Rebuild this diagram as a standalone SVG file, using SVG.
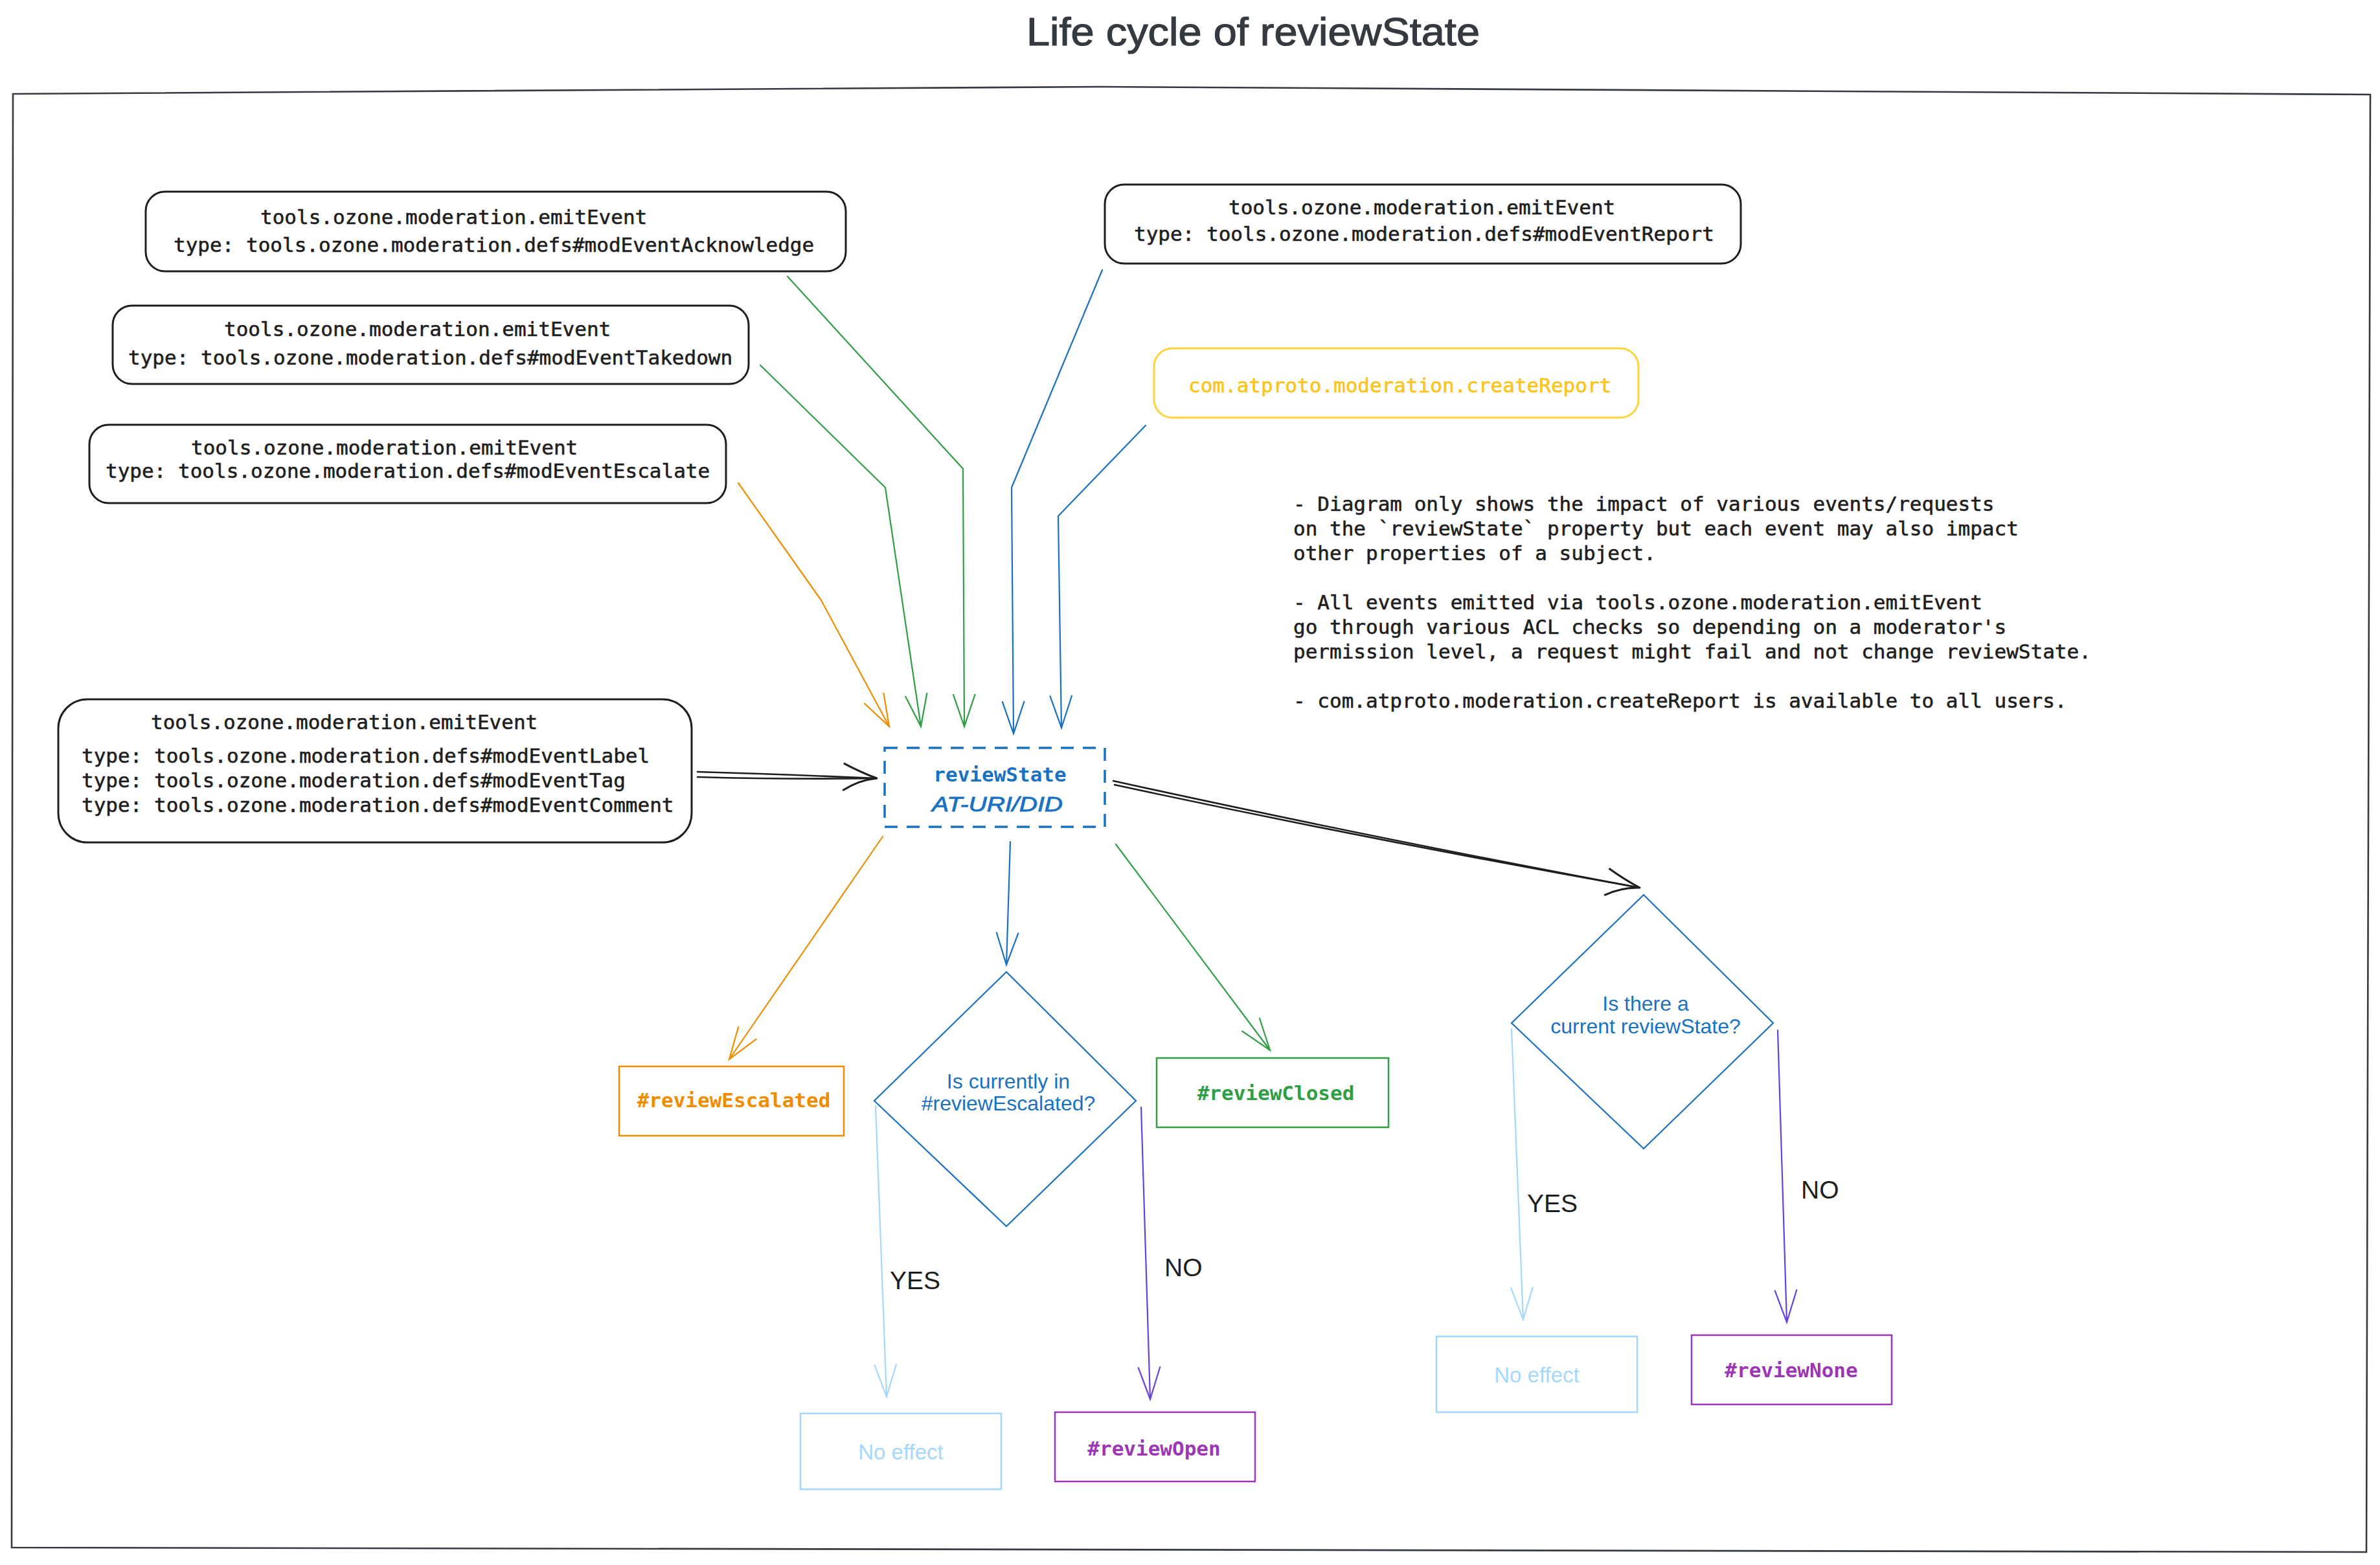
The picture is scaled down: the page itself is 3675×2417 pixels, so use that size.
<svg xmlns="http://www.w3.org/2000/svg" width="3675" height="2417" viewBox="0 0 3675 2417">
<style>
.mono{font-family:"DejaVu Sans Mono","Liberation Mono",monospace;font-size:31px;fill:#1e1e1e;stroke:#1e1e1e;stroke-width:0.6}
.bold{font-weight:bold;stroke:none}
.sans{font-family:"Liberation Sans",Arial,sans-serif}
.box{fill:#ffffff;stroke:#1e1e1e;stroke-width:3}
.c{fill:none;stroke-width:2.2;stroke-linecap:round;stroke-linejoin:round}
.k{fill:none;stroke:#1e1e1e;stroke-width:2.6;stroke-linecap:round}
</style>
<defs>
<marker id="aOr" viewBox="-60 -30 70 60" markerWidth="70" markerHeight="60" refX="0" refY="0" markerUnits="userSpaceOnUse" orient="auto"><path d="M-50,-17 L0,0 L-50,17" fill="none" stroke="#f08c00" stroke-width="2.2"/></marker>
<marker id="aGr" viewBox="-60 -30 70 60" markerWidth="70" markerHeight="60" refX="0" refY="0" markerUnits="userSpaceOnUse" orient="auto"><path d="M-50,-17 L0,0 L-50,17" fill="none" stroke="#2f9e44" stroke-width="2.2"/></marker>
<marker id="aBl" viewBox="-60 -30 70 60" markerWidth="70" markerHeight="60" refX="0" refY="0" markerUnits="userSpaceOnUse" orient="auto"><path d="M-50,-17 L0,0 L-50,17" fill="none" stroke="#1971c2" stroke-width="2.2"/></marker>
<marker id="aLb" viewBox="-60 -30 70 60" markerWidth="70" markerHeight="60" refX="0" refY="0" markerUnits="userSpaceOnUse" orient="auto"><path d="M-50,-17 L0,0 L-50,17" fill="none" stroke="#a5d8ff" stroke-width="2.2"/></marker>
<marker id="aVi" viewBox="-60 -30 70 60" markerWidth="70" markerHeight="60" refX="0" refY="0" markerUnits="userSpaceOnUse" orient="auto"><path d="M-50,-17 L0,0 L-50,17" fill="none" stroke="#6741d9" stroke-width="2.2"/></marker>
<marker id="aBk" viewBox="-60 -30 70 60" markerWidth="70" markerHeight="60" refX="0" refY="0" markerUnits="userSpaceOnUse" orient="auto"><path d="M-52,-21 Q-25,-8 0,0 Q-28,4 -52,21" fill="none" stroke="#1e1e1e" stroke-width="3"/></marker>
</defs>
<rect width="3675" height="2417" fill="#ffffff"/>

<g id="title">
<text x="1935" y="70" text-anchor="middle" class="sans" font-size="62" fill="#343a40" stroke="#343a40" stroke-width="1.2" textLength="700" lengthAdjust="spacingAndGlyphs">Life cycle of reviewState</text>
</g>

<g id="frame">
<path d="M20,145 L1700,134 L3660,146 L3654,2397 L18,2390 Z" fill="none" stroke="#343a40" stroke-width="2.6"/>
</g>

<g id="node-acknowledge">
<rect class="box" x="225" y="296" width="1081" height="123" rx="30"/>
<text class="mono" x="402" y="346">tools.ozone.moderation.emitEvent</text>
<text class="mono" x="268" y="389">type: tools.ozone.moderation.defs#modEventAcknowledge</text>
</g>

<g id="node-takedown">
<rect class="box" x="174" y="472" width="982" height="121" rx="30"/>
<text class="mono" x="346" y="519">tools.ozone.moderation.emitEvent</text>
<text class="mono" x="198" y="563">type: tools.ozone.moderation.defs#modEventTakedown</text>
</g>

<g id="node-escalate">
<rect class="box" x="138" y="656" width="983" height="121" rx="30"/>
<text class="mono" x="295" y="702">tools.ozone.moderation.emitEvent</text>
<text class="mono" x="163" y="738">type: tools.ozone.moderation.defs#modEventEscalate</text>
</g>

<g id="node-report">
<rect class="box" x="1706" y="285" width="982" height="122" rx="30"/>
<text class="mono" x="1897" y="331">tools.ozone.moderation.emitEvent</text>
<text class="mono" x="1751" y="372">type: tools.ozone.moderation.defs#modEventReport</text>
</g>

<g id="node-createReport">
<rect x="1782" y="538" width="748" height="107" rx="28" fill="#ffffff" stroke="#ffd43b" stroke-width="3"/>
<text class="mono" x="1835" y="606" style="fill:#fcc419;stroke:#fcc419">com.atproto.moderation.createReport</text>
</g>

<g id="node-label">
<rect class="box" x="90" y="1080" width="978" height="221" rx="45"/>
<text class="mono" x="233" y="1126">tools.ozone.moderation.emitEvent</text>
<text class="mono" x="126" y="1178">type: tools.ozone.moderation.defs#modEventLabel</text>
<text class="mono" x="126" y="1216">type: tools.ozone.moderation.defs#modEventTag</text>
<text class="mono" x="126" y="1254">type: tools.ozone.moderation.defs#modEventComment</text>
</g>

<g id="note">
<text class="mono" x="1997" y="789">- Diagram only shows the impact of various events/requests</text>
<text class="mono" x="1997" y="827">on the `reviewState` property but each event may also impact</text>
<text class="mono" x="1997" y="865">other properties of a subject.</text>
<text class="mono" x="1997" y="941">- All events emitted via tools.ozone.moderation.emitEvent</text>
<text class="mono" x="1997" y="979">go through various ACL checks so depending on a moderator's</text>
<text class="mono" x="1997" y="1017">permission level, a request might fail and not change reviewState.</text>
<text class="mono" x="1997" y="1093">- com.atproto.moderation.createReport is available to all users.</text>
</g>

<g id="node-reviewState">
<rect x="1366" y="1155" width="340" height="122" fill="#ffffff" stroke="#1971c2" stroke-width="3.5" stroke-dasharray="20 14"/>
<text class="mono bold" x="1544" y="1207" text-anchor="middle" style="fill:#1971c2">reviewState</text>
<text class="sans" x="1540" y="1253" text-anchor="middle" font-size="32" font-style="italic" fill="#1971c2" stroke="#1971c2" stroke-width="0.8" textLength="202" lengthAdjust="spacingAndGlyphs">AT-URI/DID</text>
</g>

<g id="node-reviewEscalated">
<rect x="956" y="1647" width="347" height="107" fill="#ffffff" stroke="#f08c00" stroke-width="2.5"/>
<text class="mono bold" x="1133" y="1710" text-anchor="middle" style="fill:#f08c00">#reviewEscalated</text>
</g>

<g id="node-decision-escalated">
<path d="M1554,1501 L1754,1700 L1554,1894 L1350,1700 Z" fill="#ffffff" stroke="#1971c2" stroke-width="2.2"/>
<text class="sans" x="1557" y="1681" text-anchor="middle" font-size="32" fill="#1971c2">Is currently in</text>
<text class="sans" x="1557" y="1715" text-anchor="middle" font-size="32" fill="#1971c2">#reviewEscalated?</text>
</g>

<g id="node-reviewClosed">
<rect x="1786" y="1634" width="358" height="107" fill="#ffffff" stroke="#2f9e44" stroke-width="2.5"/>
<text class="mono bold" x="1970" y="1699" text-anchor="middle" style="fill:#2f9e44">#reviewClosed</text>
</g>

<g id="node-decision-current">
<path d="M2538,1382 L2738,1580 L2538,1774 L2334,1580 Z" fill="#ffffff" stroke="#1971c2" stroke-width="2.2"/>
<text class="sans" x="2541" y="1561" text-anchor="middle" font-size="32" fill="#1971c2">Is there a</text>
<text class="sans" x="2541" y="1596" text-anchor="middle" font-size="32" fill="#1971c2">current reviewState?</text>
</g>

<g id="node-noeffect-1">
<rect x="1236" y="2183" width="310" height="117" fill="#ffffff" stroke="#a5d8ff" stroke-width="2.5"/>
<text class="sans" x="1391" y="2254" text-anchor="middle" font-size="33" fill="#a5d8ff">No effect</text>
</g>

<g id="node-reviewOpen">
<rect x="1629" y="2181" width="309" height="107" fill="#ffffff" stroke="#9c36b5" stroke-width="2.5"/>
<text class="mono bold" x="1782" y="2248" text-anchor="middle" style="fill:#9c36b5">#reviewOpen</text>
</g>

<g id="node-noeffect-2">
<rect x="2218" y="2064" width="310" height="117" fill="#ffffff" stroke="#a5d8ff" stroke-width="2.5"/>
<text class="sans" x="2373" y="2135" text-anchor="middle" font-size="33" fill="#a5d8ff">No effect</text>
</g>

<g id="node-reviewNone">
<rect x="2612" y="2062" width="309" height="107" fill="#ffffff" stroke="#9c36b5" stroke-width="2.5"/>
<text class="mono bold" x="2766" y="2127" text-anchor="middle" style="fill:#9c36b5">#reviewNone</text>
</g>

<g id="connectors">
<path class="c" stroke="#2f9e44" d="M1216,427 L1487,724 L1489,1122" marker-end="url(#aGr)"/>
<path class="c" stroke="#2f9e44" d="M1174,564 L1367,753 L1422,1122" marker-end="url(#aGr)"/>
<path class="c" stroke="#f08c00" d="M1140,746 L1268,927 L1373,1122" marker-end="url(#aOr)"/>
<path class="c" stroke="#1971c2" d="M1702,417 L1562,753 L1565,1133" marker-end="url(#aBl)"/>
<path class="c" stroke="#1971c2" d="M1769,657 L1634,797 L1639,1124" marker-end="url(#aBl)"/>
<path class="k" d="M1077,1200 Q1210,1204 1354,1202"/>
<path class="k" d="M1077,1192 Q1210,1196 1354,1202" marker-end="url(#aBk)"/>
<path class="k" d="M1719,1206 Q2100,1290 2532,1371"/>
<path class="k" d="M1721,1212 Q2110,1296 2532,1371" marker-end="url(#aBk)"/>
<path class="c" stroke="#f08c00" d="M1363,1292 L1126,1636" marker-end="url(#aOr)"/>
<path class="c" stroke="#1971c2" d="M1560,1300 L1554,1490" marker-end="url(#aBl)"/>
<path class="c" stroke="#2f9e44" d="M1723,1304 L1961,1622" marker-end="url(#aGr)"/>
<path class="c" stroke="#a5d8ff" d="M1352,1708 L1369,2157" marker-end="url(#aLb)"/>
<path class="c" stroke="#6741d9" d="M1762,1710 L1776,2161" marker-end="url(#aVi)"/>
<path class="c" stroke="#a5d8ff" d="M2334,1589 L2352,2038" marker-end="url(#aLb)"/>
<path class="c" stroke="#6741d9" d="M2745,1591 L2759,2042" marker-end="url(#aVi)"/>
<text class="sans" x="1374" y="1991" font-size="39" fill="#1e1e1e">YES</text>
<text class="sans" x="1798" y="1971" font-size="39" fill="#1e1e1e">NO</text>
<text class="sans" x="2358" y="1872" font-size="39" fill="#1e1e1e">YES</text>
<text class="sans" x="2781" y="1851" font-size="39" fill="#1e1e1e">NO</text>
</g>
</svg>
